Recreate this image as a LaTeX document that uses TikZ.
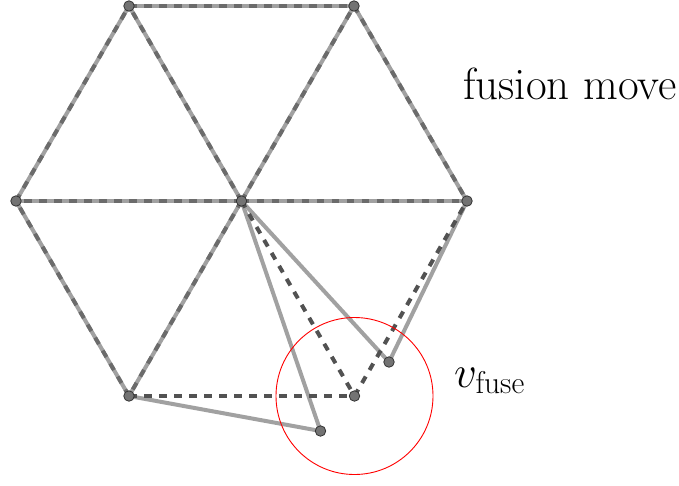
\RequirePackage{fix-cm}
\documentclass[tikz,border=0pt]{standalone}
\begin{document}
\begin{tikzpicture}[x=1pt,y=-1pt,
  solidedge/.style={line width=4pt,color=black!37},
  dashedge/.style={line width=4pt,color=black!68,dash pattern=on 7.5pt off 7.5pt},
  overdash/.style={dashedge,color=black!58},
  vdot/.style={circle,draw=black!80,fill=black!55,line width=0.8pt,inner sep=0pt,minimum size=10.5pt},
  lbl/.style={font=\fontsize{45}{54}\selectfont,inner sep=0pt}]
\useasboundingbox (0,0) rectangle (679,485);
\coordinate (c) at (241.5,201);
\coordinate (p1) at (129,6);
\coordinate (p2) at (354,6);
\coordinate (p3) at (467,201);
\coordinate (p4) at (354.5,396);
\coordinate (p5) at (129,396);
\coordinate (p6) at (16,201);
\coordinate (a) at (389,362);
\coordinate (b) at (320.5,431);
% solid + dashed edges
\foreach \u/\v in {p1/p2,p2/p3,p5/p6,p6/p1,c/p1,c/p2,c/p3,c/p5,c/p6}{
  \draw[solidedge] (\u) -- (\v);
  \draw[overdash] (\u) -- (\v);
}
% solid only
\draw[solidedge] (c) -- (a);
\draw[solidedge] (c) -- (b);
\draw[solidedge] (a) -- (p3);
\draw[solidedge] (p5) -- (b);
% dashed only
\foreach \u/\v in {p5/p4,p4/p3,c/p4}{
  \draw[dashedge] (\u) -- (\v);
}
% red circle
\draw[red,line width=0.9pt] (p4) circle[radius=78.5];
% dots
\foreach \p in {c,p1,p2,p3,p4,p5,p6,a,b}{
  \node[vdot] (d\p) at (\p) {};
}
\node[lbl,anchor=base west] (title) at (463,99) {fusion move};
\node[lbl,anchor=base west] (vf) at (454,387) {$v_{\mathrm{fuse}}$};
\end{tikzpicture}
\end{document}
